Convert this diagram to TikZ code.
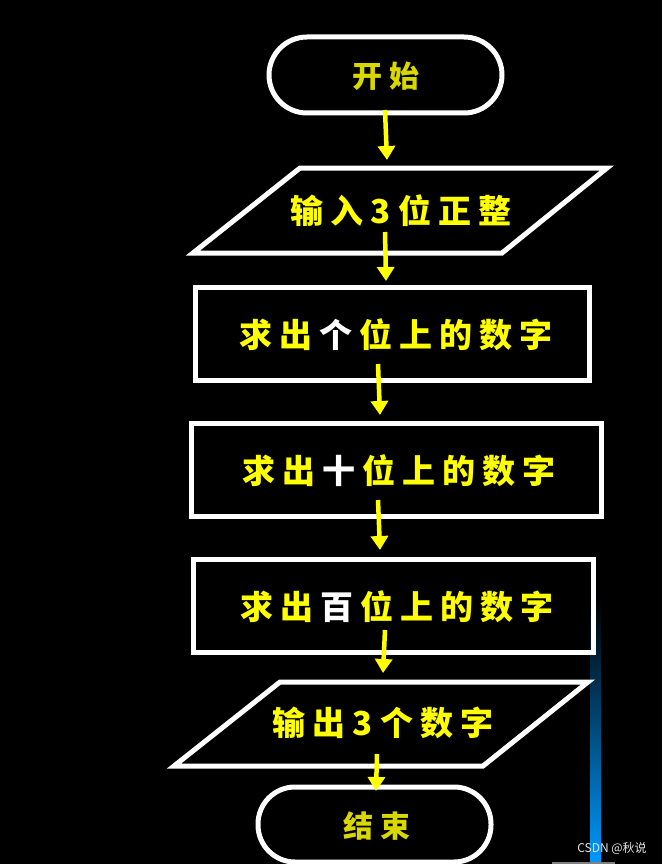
\documentclass[tikz,border=0pt]{standalone}
\usepackage{fontspec}
\newfontfamily\cjk{Noto Sans CJK SC}
\usetikzlibrary{arrows.meta}
\definecolor{yel}{HTML}{FFFF00}
\definecolor{oli}{HTML}{D8D800}
\newcommand{\gapc}{\hspace{7pt}}
\tikzset{
  box/.style={draw=white,line width=5pt},
  lab/.style={font=\cjk\bfseries\fontsize{33}{33}\selectfont,text=yel},
  arr/.style={draw=yel,line width=4.5pt,-{Triangle[length=14pt,width=17pt]}}
}
\begin{document}
\begin{tikzpicture}[x=1pt,y=-1pt]
\fill[black] (0,0) rectangle (662,864);
\useasboundingbox (0,0) rectangle (662,864);
\shade[top color=black,bottom color=cyan!60!blue] (590,600) rectangle (601,864);
\draw[gray,line width=2pt] (552,863) -- (615,863);
\draw[box,rounded corners=38pt] (269,37) rectangle (502,113);
\node[lab,text=oli,font=\cjk\bfseries\fontsize{30}{30}\selectfont] (s) at (386,76) {开\gapc 始};
\draw[box] (193,253) -- (300,168) -- (607,168) -- (502,253) -- cycle;
\node[lab] (p1) at (401,211) {输\gapc 入\gapc 3\gapc 位\gapc 正\gapc 整};
\draw[box] (195,287) rectangle (589,380);
\node[lab] (r1) at (396,335) {求\gapc 出\gapc \textcolor{white}{个}\gapc 位\gapc 上\gapc 的\gapc 数\gapc 字};
\draw[box] (191,423) rectangle (601,516);
\node[lab] (r2) at (399,471) {求\gapc 出\gapc \textcolor{white}{十}\gapc 位\gapc 上\gapc 的\gapc 数\gapc 字};
\draw[box] (193,559) rectangle (593,652);
\node[lab] (r3) at (397,607) {求\gapc 出\gapc \textcolor{white}{百}\gapc 位\gapc 上\gapc 的\gapc 数\gapc 字};
\draw[box] (174,766) -- (280,682) -- (588,682) -- (483,766) -- cycle;
\node[lab] (p2) at (383,723) {输\gapc 出\gapc 3\gapc 个\gapc 数\gapc 字};
\draw[box,rounded corners=37pt] (258,787) rectangle (491,862);
\node[lab,text=oli,font=\cjk\bfseries\fontsize{30}{30}\selectfont] (e) at (377,826) {结\gapc 束};
\coordinate (a1) at (385,110); \coordinate (b1) at (387,160);
\coordinate (a2) at (385,232); \coordinate (b2) at (386,281);
\coordinate (a3) at (378,364); \coordinate (b3) at (380,415);
\coordinate (a4) at (378,500); \coordinate (b4) at (380,550);
\coordinate (a5) at (385,630); \coordinate (b5) at (383,673);
\coordinate (a6) at (377,754); \coordinate (b6) at (376,791);
\foreach \i in {1,...,6} \draw[arr] (a\i) -- (b\i);
\node[text=white!80!gray,font=\cjk\fontsize{12}{12}\selectfont] (w) at (612,848) {CSDN @秋说};
\end{tikzpicture}
\end{document}
